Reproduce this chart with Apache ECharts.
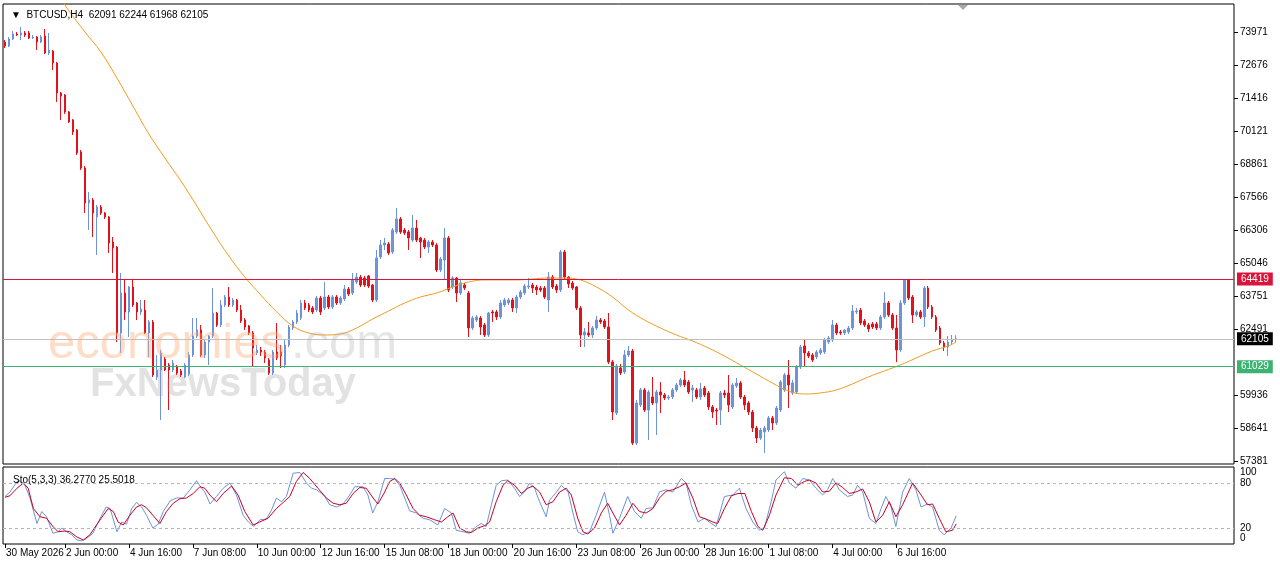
<!DOCTYPE html>
<html>
<head>
<meta charset="utf-8">
<title>BTCUSD,H4</title>
<script src="https://cdn.jsdelivr.net/npm/echarts@6.0.0/dist/echarts.min.js"></script>
<style>
    html, body { margin: 0; padding: 0; background: #fff; }
    #main { width: 1280px; height: 567px; }
</style>
</head>
<body>
<div id="main"></div>
<script>
// H4 candles, one row per bar: [open, close, low, high]
var ohlc = [
[73584,73429,73352,73661],[73429,73700,73391,73777],[73700,73893,73661,74009],[73893,73855,73816,73971],
[73855,73932,73661,74164],[73932,73855,73777,74009],[73932,73739,73700,74009],[73739,73777,73700,73855],
[73777,73584,73275,73816],[73584,73777,73545,73855],[73816,73159,73120,74087],[73159,73275,73081,73932],
[73236,72772,72501,73275],[72772,71612,71264,72811],[71612,71496,70568,71650],[71534,70877,70800,71573],
[70877,70490,70452,70916],[70568,70104,69987,70606],[70181,69292,69214,70220],[69330,68711,68634,69407],
[68711,67358,66971,68789],[67358,67474,66314,67783],[67474,66971,66044,67552],[66817,67204,65347,67281],
[67204,66971,66894,67281],[66971,66817,66740,67010],[66817,65811,65425,66855],[65850,65618,64651,66044],
[65657,62331,61983,65695],[62331,63878,61558,64651],[63878,63143,62834,64381],[63143,64110,62177,64148],
[64110,63414,63337,64381],[63491,63143,62834,63530],[63143,63259,63027,63607],[63220,62331,62293,63607],
[62331,62757,61403,62834],[62757,60707,60630,62834],[60630,60900,60514,61480],[60900,61558,58967,61674],
[61325,60900,60861,61403],[61094,60900,59354,61171],[60900,61171,60823,61287],[61016,60784,60707,61094],
[60861,60707,60630,60939],[60630,61094,60591,61171],[60746,61480,60668,61597],[61480,62215,61403,62911],
[62215,62447,62138,62911],[62447,61480,61403,62641],[61480,61983,61364,62060],[61983,62215,61094,62254],
[62215,63104,62138,64071],[63104,62641,62563,63143],[62641,63414,62563,63607],[63414,63723,63337,63800],
[63723,63414,63337,64110],[63414,63607,63337,63684],[63607,63220,63143,63645],[63220,62795,62718,63414],
[62834,62563,62447,62911],[62602,62331,62254,62641],[62331,61751,61016,62409],[61558,61674,61480,61867],
[61674,61597,61442,61790],[61597,61364,61171,61674],[61287,60784,60707,61364],[60784,61597,60707,61674],
[61597,61364,61287,62718],[61597,61442,60978,61867],[61094,61867,60978,62060],[61867,62563,61790,62641],
[62525,62757,62447,62834],[62757,63104,62679,63220],[62911,63491,62834,63607],[63491,63298,63220,63607],
[63414,63220,63143,63491],[63298,63143,63066,63375],[63220,63684,63143,63762],[63684,63143,63027,63762],
[63298,63723,63220,64303],[63723,63337,63259,63800],[63337,63723,63259,63800],[63723,63491,63414,63800],
[63491,63684,63414,63762],[63645,64032,63568,64187],[64032,63839,63762,64110],[63878,64381,63800,64651],
[64303,64497,64226,64651],[64497,64187,64110,64574],[64458,64187,64110,64535],[64535,64148,64071,64574],
[64187,63607,63530,64226],[63607,65231,63530,65541],[65270,65734,65193,65927],[65734,65811,65541,66005],
[65773,65425,65347,65850],[65463,66314,65386,66391],[66237,66740,66160,67165],[66740,66237,66160,66817],
[66314,66198,66121,66391],[66237,66005,65541,66314],[65927,66391,65850,66894],[66391,65927,65850,66701],
[66005,65850,65231,66044],[65927,65657,65579,66005],[65657,65850,65425,65927],[65850,65734,65657,65927],
[65734,64767,64690,65811],[64767,65193,64690,65270],[65154,66005,64419,66391],[66005,63994,63916,66083],
[64110,64458,64032,64535],[64458,63878,63530,64497],[63878,64265,63800,64419],[64187,64071,63994,64265],
[63878,62525,62177,63955],[62525,62911,62447,62988],[62834,62950,62757,63027],[62911,62563,62254,62988],
[62641,62254,62177,62718],[62254,63104,62177,63143],[63143,63104,62757,63220],[63143,62950,62834,63220],
[62950,63491,62873,63607],[63414,63607,63337,63684],[63491,63607,63414,63684],[63607,63298,63143,63684],
[63298,63723,63104,63800],[63723,63916,63645,63994],[63878,64148,63800,64226],[64110,64148,64032,64458],
[64187,64071,63878,64265],[64110,63994,63800,64187],[64071,63994,63916,64148],[64071,63723,63645,64148],
[63607,64497,63143,64690],[64497,64110,64032,64574],[64148,63994,63878,64226],[63994,65463,63916,65541],
[65463,64497,64419,65541],[64497,64226,64071,64535],[64265,64071,63994,64342],[64110,63298,63220,64148],
[63298,62254,61790,63375],[62254,62370,61790,62525],[62331,62254,62177,62757],[62254,62525,62138,62602],
[62525,62834,62447,62988],[62834,62757,62679,62911],[62795,62563,62486,62873],[62563,61210,61132,63104],
[61210,59276,58967,61287],[59238,61055,59160,61132],[60978,60784,60707,61132],[60823,61480,60746,61674],
[61480,61635,61403,61829],[61635,58077,58000,61713],[58077,59625,58000,59741],[59547,60128,59470,60205],
[60128,59354,59276,60205],[59354,60050,58193,60128],[59857,59625,59547,60630],[59625,60050,58387,60128],
[60050,59934,59238,60434],[59934,59818,59741,60011],[59818,59857,59741,59934],[59857,60128,59779,60205],
[60128,60320,60050,60398],[60320,60514,60243,60591],[60514,60320,60243,60861],[60437,60050,59972,60514],
[60128,60205,59663,60320],[60128,59857,59779,60205],[59857,60166,59741,60398],[60205,59934,59857,60282],
[60011,59470,59354,60089],[59470,59276,59044,59547],[59354,59315,58774,59431],[59354,60011,58774,60089],
[60011,59934,59818,60128],[60011,59547,59276,60707],[59470,60320,59392,60398],[60282,60398,60205,60591],
[60398,59857,59779,60475],[59857,59547,59354,59934],[59625,59276,59160,59702],[59276,58658,58503,59354],
[58658,58271,58077,58735],[58271,58580,58193,58658],[58503,58658,57691,58735],[58580,59044,58503,59122],
[59044,58851,58580,59122],[58851,59431,58774,59509],[59354,60437,59276,60514],[60128,60707,60050,60784],
[60707,60320,59431,61287],[60011,60398,59934,60514],[60050,61016,59972,61094],[61016,61790,60939,61867],
[61829,61558,61016,62099],[61558,61442,61364,61635],[61480,61287,61210,61558],[61403,61597,61325,61674],
[61558,61674,61480,61751],[61597,62060,61519,62138],[61983,62138,61906,62215],[62060,62641,61983,62834],
[62641,62331,62254,62718],[62370,62331,62254,62447],[62331,62447,62254,62486],[62370,62525,62293,62602],
[62525,63182,62447,63414],[63143,63182,63066,63298],[63220,62718,62641,63298],[62795,62641,62563,62873],
[62641,62486,62370,62718],[62679,62563,62486,62757],[62679,62525,62447,62757],[62525,62950,62447,63027],
[62950,63491,62873,63916],[63491,63027,62950,63568],[63027,62525,62447,63104],[62525,61674,61210,63027],
[61674,63491,61597,63607],[63491,64381,63414,64419],[64381,63684,63607,64419],[63723,63027,62718,63800],
[63027,63143,62950,63220],[63143,62950,62873,63220],[62950,64071,62563,64148],[64071,63337,63259,64148],
[63337,62950,62873,63414],[62950,62447,62370,63027],[62525,61945,61867,62602],[61945,61790,61635,62022],
[61790,61983,61442,62215],[61983,62060,61906,62254],[62091,62105,61968,62244]
];

// moving average: [bar index, price]
var maLine = [
[10,76291],[15,75015],[20,73971],[24,73197],[28,72192],[32,71109],[36,70026],[40,69098],
[44,68209],[48,67242],[52,66237],[56,65309],[60,64497],[64,63800],[68,63143],[72,62602],
[76,62331],[80,62254],[84,62293],[88,62525],[92,62873],[96,63182],[100,63491],[104,63723],
[108,63878],[112,64110],[116,64303],[120,64381],[124,64381],[128,64381],[132,64419],[136,64458],
[140,64458],[144,64381],[148,64110],[152,63723],[156,63220],[160,62834],[164,62525],[168,62254],
[172,62022],[176,61751],[180,61442],[184,61094],[188,60746],[192,60398],[196,60089],[200,59972],
[204,60011],[208,60128],[212,60359],[216,60630],[220,60862],[224,61094],[228,61364],[232,61635],
[236,61829],[238,61983]
];

// Stochastic(5,3,3) main line (%K) and signal (%D): [bar index, value]
var stochK = [
[0,62],[1.25,68],[3,82],[3.75,83],[5,77],[6.25,60],[8,26],[9.2,42],[10.4,35],[12,13],[13.3,15],
[14.2,20],[15.4,15],[16.7,11],[18,4],[19.2,3],[20.4,6],[22,13],[23.8,33],[25.3,48],[26.3,46],
[28,15],[29.2,28],[30.4,25],[31.7,46],[32.9,54],[34.2,48],[35.4,37],[37,20],[38.3,25],[39.6,42],
[41.3,56],[42.9,60],[44.6,60],[46.3,71],[47.9,83],[49.2,73],[50,68],[51.3,52],[52.9,62],[54.6,73],
[56.3,80],[57.9,64],[59.6,37],[60.9,28],[62.2,22],[63.8,31],[65.4,32],[66.7,44],[67.9,60],[69.2,55],
[70.4,62],[72.1,93],[73.8,94],[75.4,80],[76.7,73],[77.9,71],[79.2,66],[80,62],[81.25,51],[83,48],
[84.6,52],[86.25,64],[87.5,75],[89.6,75],[90.8,64],[92,40],[93.3,55],[95,86],[96.25,86],[97.5,85],
[98.75,77],[100,60],[101.25,43],[102.9,40],[104.6,33],[106.25,31],[108.3,24],[110,46],[111.7,40],
[112.9,17],[114.6,15],[116.25,13],[117.9,22],[119.2,26],[120.4,22],[121.7,51],[122.9,77],[124.2,83],
[125.8,84],[127.5,73],[128.75,62],[130,68],[131.25,80],[132.5,73],[133.75,55],[135.4,35],[136.25,57],
[138,68],[139.2,77],[140.9,68],[142.1,40],[143.3,15],[144.6,11],[146.25,15],[147.9,37],[150,68],
[151.25,37],[152.1,13],[153.75,33],[155.8,62],[157.5,42],[159.2,33],[160.4,46],[162.1,47],[163.75,68],
[165.4,71],[167.1,68],[169.2,86],[170.4,80],[171.7,51],[173.4,28],[175,33],[176.7,26],[177.9,22],
[180,62],[182.1,64],[183.75,73],[185.4,46],[187.1,28],[188.75,17],[190,20],[191.7,55],[192.9,84],
[195,95],[196.25,80],[197.9,73],[199.6,86],[201.25,84],[202.9,73],[204.6,64],[205.8,71],[207.1,86],
[208.75,71],[210.8,62],[212.1,64],[213.3,77],[214.6,68],[216.25,33],[217.9,26],[219.2,46],[220.4,62],
[221.7,48],[222.9,22],[224.6,68],[226.25,86],[227.9,71],[229.2,48],[230.8,52],[232.1,48],[233.75,17],
[235,11],[236.7,20],[238,36.277]
];
var stochD = [
[0,61],[1.25,63],[3,73],[4.6,80],[5.8,73],[7.1,46],[8.75,35],[10.4,33],[12,22],[13.3,15],[15,16],
[16.25,15],[18,8],[19.6,4],[21.25,11],[22.9,24],[24.6,37],[25.8,46],[27.1,42],[28.3,28],[29.6,24],
[31.25,37],[32.9,48],[34.2,51],[35.4,47],[37,37],[38.75,26],[40.4,42],[42.1,53],[43.75,59],[45.4,60],
[47.1,66],[48.75,75],[50,73],[51.25,64],[52.9,55],[54.6,66],[56.7,76],[58.3,64],[60,42],[62.1,24],
[63.75,28],[65.8,33],[67.9,46],[69.6,54],[71.25,62],[72.9,82],[74.6,94],[76.25,86],[78.3,73],[80.4,60],
[82.1,53],[83.75,51],[85.4,53],[87.1,66],[88.75,74],[90.4,73],[92.1,60],[93.3,52],[95,68],[96.25,82],
[97.5,86],[98.75,80],[100.4,64],[102.1,46],[103.75,37],[105.4,35],[107.5,31],[109.2,28],[110.8,35],
[112.1,40],[113.75,20],[115.4,15],[116.7,14],[118.3,20],[120,23],[121.25,28],[122.9,55],[124.6,77],
[125.8,83],[127.5,77],[129.2,66],[130.8,73],[132.1,76],[133.75,68],[135.4,51],[137.1,55],[138.75,68],
[140.4,73],[141.7,64],[143.3,33],[144.6,15],[145.8,12],[147.5,20],[149.2,40],[150.8,53],[152.1,40],
[153.75,24],[155.4,37],[157.1,53],[158.75,42],[160.4,40],[162.1,46],[163.75,60],[165.4,69],[167.1,71],
[168.75,75],[170.4,80],[172.1,60],[173.75,35],[175.4,32],[177.1,28],[178.3,26],[180,46],[181.75,63],
[183.4,66],[185.1,66],[186.75,42],[188.4,22],[189.6,17],[191.25,37],[192.9,64],[195,87],[196.75,86],
[198.4,77],[200,82],[201.25,84],[202.9,80],[204.6,68],[206.25,69],[207.9,80],[209.6,74],[211.25,66],
[212.9,68],[214.6,72],[216.25,55],[217.9,28],[219.6,37],[221.25,55],[222.9,35],[224.6,51],[227.1,80],
[229.2,64],[230.8,51],[232.1,52],[233.75,33],[235.4,15],[237.1,17],[238,25.5018]
];

var priceTicks = [73971, 72676, 71416, 70121, 68861, 67566, 66306, 65046, 63751, 62491, 59936, 58641, 57381];
var stochTicks = [100, 80, 20, 0];
var timeTickIdx = [0, 15, 31, 47, 63, 79, 95, 111, 127, 143, 159, 175, 191, 207, 223];
var timeTickLabels = ['30 May 2026', '2 Jun 00:00', '4 Jun 16:00', '7 Jun 08:00', '10 Jun 00:00',
    '12 Jun 16:00', '15 Jun 08:00', '18 Jun 00:00', '20 Jun 16:00', '23 Jun 08:00', '26 Jun 00:00',
    '28 Jun 16:00', '1 Jul 08:00', '4 Jul 00:00', '6 Jul 16:00'];
var resistance = 64419, lastPrice = 62105, support = 61029;
var slotCount = 308; // bars visible plus the empty right shift

var slots = [];
for (var i = 0; i < slotCount; i++) slots.push(i);

var font = '"Liberation Sans", Arial, sans-serif';
var myChart = echarts.init(document.getElementById('main'));

function levelLine(value, lineColor, boxColor) {
    return {
        yAxis: value,
        lineStyle: { color: lineColor, width: 1, type: 'solid', opacity: 1 },
        label: {
            show: true, position: 'end', distance: 3,
            formatter: String(value),
            color: '#fff', backgroundColor: boxColor,
            fontFamily: font, fontSize: 10, padding: [2, 4, 1, 4]
        }
    };
}

var option = {
    animation: false,
    backgroundColor: '#fff',
    title: [
        {
            text: '▼  BTCUSD,H4  62091 62244 61968 62105',
            left: 6, top: 5,
            textStyle: { fontFamily: font, fontSize: 10, fontWeight: 'normal', color: '#000' }
        },
        {
            text: 'Sto(5,3,3) 36.2770 25.5018',
            left: 8, top: 470,
            textStyle: { fontFamily: font, fontSize: 10, fontWeight: 'normal', color: '#000' }
        }
    ],
    grid: [
        { left: 3, right: 46, top: 4, height: 460, show: true, borderColor: '#000', borderWidth: 1 },
        { left: 3, right: 46, top: 467, height: 77, show: true, borderColor: '#000', borderWidth: 1 }
    ],
    xAxis: [
        { type: 'category', gridIndex: 0, data: slots, boundaryGap: true, show: false },
        { type: 'value', gridIndex: 0, min: -0.5, max: slotCount - 0.5, show: false },
        {
            type: 'value', gridIndex: 1, min: -0.5, max: slotCount - 0.5,
            axisLine: { show: false, onZero: false },
            splitLine: { show: false },
            axisTick: { show: true, customValues: timeTickIdx, length: 4, lineStyle: { color: '#000' } },
            axisLabel: {
                customValues: timeTickIdx,
                formatter: function (v) { return timeTickLabels[timeTickIdx.indexOf(v)] || ''; },
                align: 'left', margin: 4, padding: [0, 0, 0, 1],
                fontFamily: font, fontSize: 10, color: '#000'
            }
        }
    ],
    yAxis: [
        {
            type: 'value', gridIndex: 0, position: 'right',
            min: 57265, max: 75053, scale: true,
            axisLine: { show: false, onZero: false },
            splitLine: { show: false },
            axisTick: { show: true, customValues: priceTicks, length: 4, lineStyle: { color: '#000' } },
            axisLabel: {
                customValues: priceTicks,
                formatter: function (v) { return String(v); },
                margin: 6, fontFamily: font, fontSize: 10, color: '#000'
            }
        },
        {
            type: 'value', gridIndex: 1, position: 'right',
            min: -1.33, max: 101.33,
            axisLine: { show: false, onZero: false },
            splitLine: { show: false },
            axisTick: { show: false },
            axisLabel: {
                customValues: stochTicks,
                formatter: function (v) {
                    if (v === 100) return '{dn|100}';
                    if (v === 0) return '{up|0}';
                    return String(v);
                },
                rich: {
                    dn: { padding: [9, 0, 0, 0], fontFamily: font, fontSize: 10, color: '#000' },
                    up: { padding: [0, 0, 9, 0], fontFamily: font, fontSize: 10, color: '#000' }
                },
                margin: 6, fontFamily: font, fontSize: 10, color: '#000'
            }
        }
    ],
    series: [
        {
            name: 'BTCUSD',
            type: 'candlestick',
            xAxisIndex: 0, yAxisIndex: 0,
            data: ohlc,
            barWidth: 2,
            itemStyle: {
                color: '#6d93db', color0: '#e3111b',
                borderColor: '#6d93db', borderColor0: '#e3111b',
                borderWidth: 1
            },
            markLine: {
                silent: true, symbol: 'none',
                data: [
                    levelLine(resistance, '#dc143c', '#dc143c'),
                    levelLine(lastPrice, '#c0c0c0', '#000'),
                    levelLine(support, '#3cb371', '#3cb371')
                ]
            }
        },
        {
            name: 'MA',
            type: 'line',
            xAxisIndex: 1, yAxisIndex: 0,
            data: maLine,
            smooth: 0.4,
            showSymbol: false,
            clip: true,
            lineStyle: { color: '#f29b1d', width: 1 }
        },
        {
            name: '%K',
            type: 'line',
            xAxisIndex: 2, yAxisIndex: 1,
            data: stochK,
            showSymbol: false,
            lineStyle: { color: '#6d93db', width: 1 },
            markLine: {
                silent: true, symbol: 'none', label: { show: false },
                lineStyle: { color: '#b4b4b4', type: [3, 3], width: 1 },
                data: [{ yAxis: 80 }, { yAxis: 20 }]
            }
        },
        {
            name: '%D',
            type: 'line',
            xAxisIndex: 2, yAxisIndex: 1,
            data: stochD,
            showSymbol: false,
            lineStyle: { color: '#cc0022', width: 1 }
        }
    ],
    graphic: [
        {
            type: 'text', left: 48, top: 320, z: 50, silent: true,
            style: { text: 'economies', font: '49px "Liberation Sans", Arial', fill: 'rgba(249,170,115,0.4)' }
        },
        {
            type: 'text', left: 291, top: 320, z: 50, silent: true,
            style: { text: '.com', font: '49px "Liberation Sans", Arial', fill: 'rgba(170,170,170,0.3)' }
        },
        {
            type: 'text', left: 90, top: 365, z: 50, silent: true,
            style: { text: 'FxNewsToday', font: 'bold 40px "Liberation Sans", Arial', fill: 'rgba(150,150,150,0.28)' }
        },
        {
            type: 'polygon', z: 50, silent: true,
            shape: { points: [[958, 5], [968, 5], [963, 10]] },
            style: { fill: '#a8a8a8' }
        }
    ]
};

myChart.setOption(option);
</script>
</body>
</html>
